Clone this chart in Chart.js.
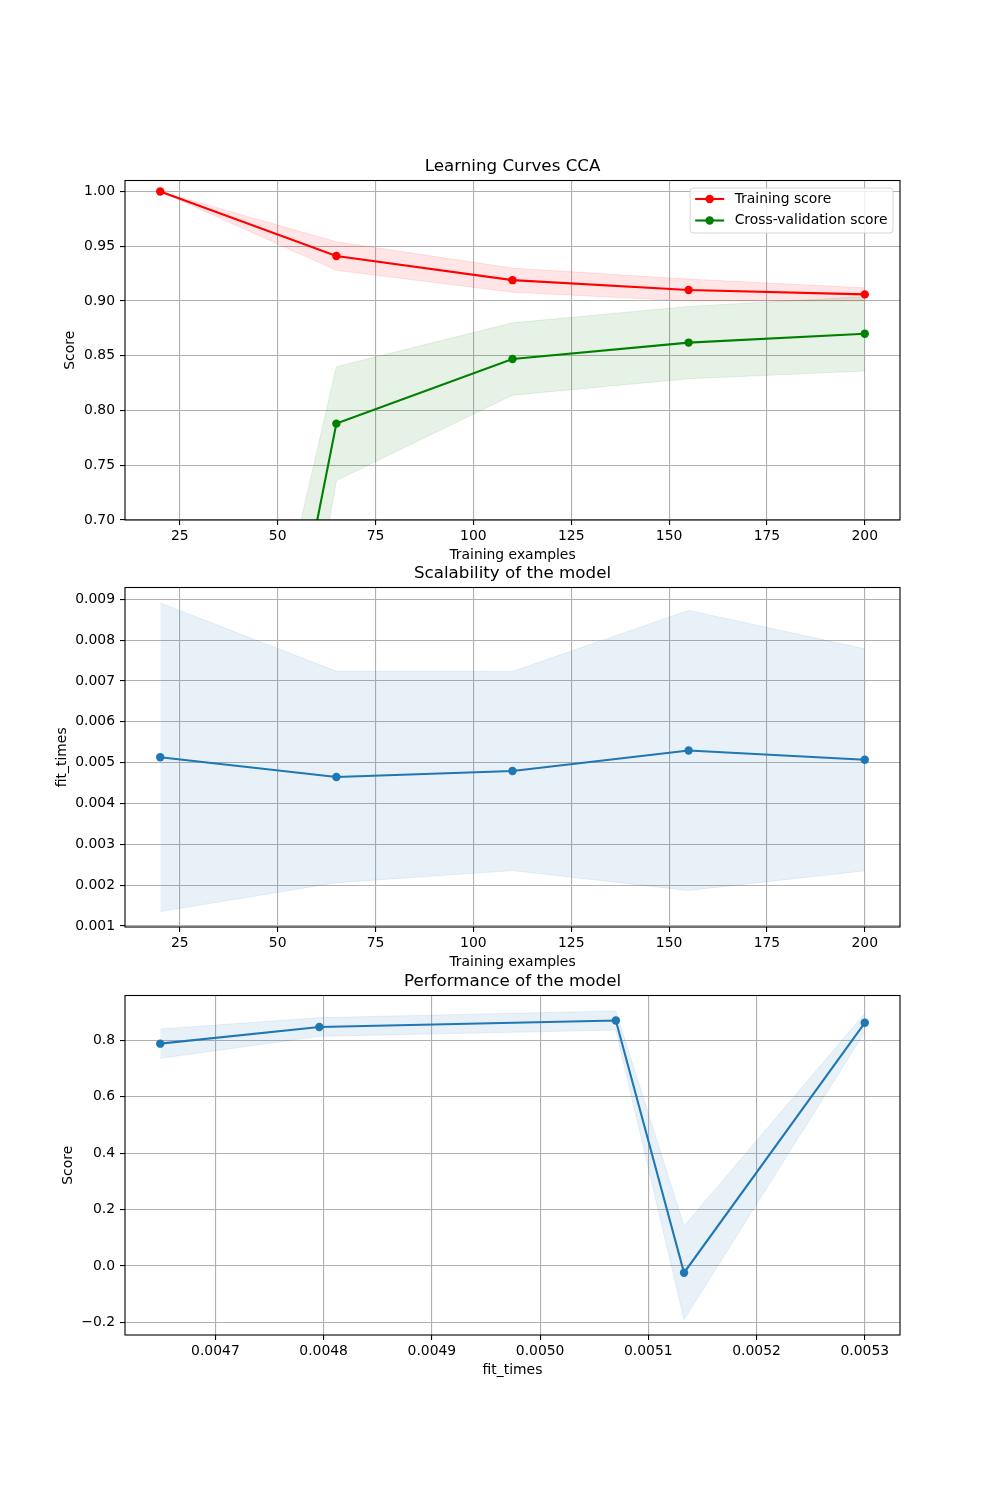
<!DOCTYPE html>
<html>
<head>
<meta charset="utf-8">
<script src="https://cdn.jsdelivr.net/npm/chart.js@4.4.1/dist/chart.umd.min.js"></script>
<style>
  body { margin: 0; background: #fff; }
  #wrap { position: relative; width: 1000px; height: 1500px; }
  canvas { position: absolute; left: 0; }
</style>
</head>
<body>
<div id="wrap">
  <canvas id="chartLearning" width="1000" height="408" style="top:156px"></canvas>
  <canvas id="chartScalability" width="1000" height="408" style="top:563px"></canvas>
  <canvas id="chartPerformance" width="1000" height="408" style="top:971px"></canvas>
</div>
<script>
// dados
const trainSizes = [20, 65, 110, 155, 200]
const trainMean = [1.0, 0.941, 0.919, 0.910, 0.906]
const trainStd = [0.0, 0.013, 0.011, 0.010, 0.006]
const testMean = [-0.024, 0.788, 0.847, 0.862, 0.870]
const testStd = [0.166, 0.052, 0.033, 0.033, 0.034]
const fitMean = [0.005133, 0.004649, 0.004796, 0.0053, 0.00507]
const fitStd = [0.00378, 0.00259, 0.00244, 0.00343, 0.00272]
const scoreYlim = [0.7, 1.01]

const FONT = "'DejaVu Sans', sans-serif"
Chart.defaults.font.family = FONT
Chart.defaults.color = "#000"

// margem de 5% como no matplotlib
const margins = (lo, hi) => {
    const m = (hi - lo) * 0.05
    return [lo - m, hi + m]
}
const pts = (xs, ys) => xs.map((x, i) => ({ x: x, y: ys[i] }))
const plus = (a, b) => a.map((v, i) => v + b[i])
const minus = (a, b) => a.map((v, i) => v - b[i])
const fmtMinus = s => s.replace("-", "\u2212")

// moldura preta em volta da área + título centrado na área
const frame = {
    id: "frame",
    afterDraw(chart, args, opts) {
        const { ctx, chartArea: a } = chart
        ctx.save()
        ctx.strokeStyle = "#000"
        ctx.lineWidth = 1.1
        ctx.strokeRect(a.left, a.top, a.right - a.left, a.bottom - a.top)
        if (opts.title) {
            ctx.font = "16.7px " + FONT
            ctx.fillStyle = "#000"
            ctx.textAlign = "center"
            ctx.textBaseline = "middle"
            ctx.fillText(opts.title, (a.left + a.right) / 2, a.top - 14)
        }
        ctx.restore()
    }
}

// legenda dentro do gráfico, canto superior direito
const legendBox = {
    id: "legendBox",
    afterDraw(chart, args, opts) {
        if (!opts.items) return
        const { ctx, chartArea } = chart
        ctx.save()
        ctx.font = "13.9px " + FONT
        const tw = Math.max(...opts.items.map(it => ctx.measureText(it.label).width))
        const w = tw + 50, h = 45
        const x = chartArea.right - 7 - w, y = chartArea.top + 7.5
        ctx.beginPath()
        ctx.roundRect(x, y, w, h, 3)
        ctx.fillStyle = "rgba(255,255,255,0.8)"
        ctx.fill()
        ctx.strokeStyle = "rgba(204,204,204,0.8)"
        ctx.lineWidth = 1
        ctx.stroke()
        opts.items.forEach((it, i) => {
            const ry = y + 11 + i * 21.5
            ctx.strokeStyle = it.color
            ctx.lineWidth = 2.1
            ctx.beginPath()
            ctx.moveTo(x + 5, ry)
            ctx.lineTo(x + 34, ry)
            ctx.stroke()
            ctx.fillStyle = it.color
            ctx.beginPath()
            ctx.arc(x + 19.5, ry, 4.2, 0, Math.PI * 2)
            ctx.fill()
            ctx.fillStyle = "#000"
            ctx.textBaseline = "middle"
            ctx.fillText(it.label, x + 44.5, ry)
        })
        ctx.restore()
    }
}

const lineSet = (label, data, color) => ({
    label: label,
    data: data,
    borderColor: color,
    backgroundColor: color,
    borderWidth: 2.1,
    pointRadius: 4.2,
    pointBorderWidth: 0,
    fill: false,
    tension: 0
})
const bandSet = (data, rgb, fill) => ({
    data: data,
    borderColor: "rgba(" + rgb + ",0.1)",
    backgroundColor: "rgba(" + rgb + ",0.1)",
    borderWidth: 1,
    pointRadius: 0,
    fill: fill,
    tension: 0
})

const gridOpts = {
    color: "#b0b0b0",
    lineWidth: 1.1,
    tickColor: "#000",
    tickLength: 5,
    tickWidth: 1.1
}

function axes(xr, yr, xStep, yStep, xFmt, yFmt, xTitle, yTitle, yTitlePad) {
    return {
        x: {
            type: "linear",
            min: xr[0],
            max: xr[1],
            grid: gridOpts,
            border: { display: false },
            ticks: { stepSize: xStep, includeBounds: false, font: { size: 13.9 }, padding: 3, maxRotation: 0, autoSkip: false, callback: xFmt },
            title: { display: true, text: xTitle, font: { size: 13.9 }, padding: { top: 0, bottom: 0 } },
            afterFit: axis => { axis.height = 44 }
        },
        y: {
            type: "linear",
            min: yr[0],
            max: yr[1],
            grid: gridOpts,
            border: { display: false },
            ticks: { stepSize: yStep, includeBounds: false, font: { size: 13.9 }, padding: 5, autoSkip: false, callback: yFmt },
            title: { display: true, text: yTitle, font: { size: 13.9 }, padding: { top: yTitlePad, bottom: 0 } },
            afterFit: axis => { axis.width = 125 }
        }
    }
}

function baseOptions(title, scales, extra) {
    return {
        responsive: false,
        animation: false,
        events: [],
        layout: { padding: { left: 0, right: 100, top: 24.5, bottom: 0 } },
        plugins: Object.assign({
            legend: { display: false },
            tooltip: { enabled: false },
            title: { display: false },
            frame: { title: title }
        }, extra || {}),
        scales: scales
    }
}

// 1 - curvas de aprendizagem
const sizeRange = margins(Math.min(...trainSizes), Math.max(...trainSizes))
new Chart(document.getElementById("chartLearning"), {
    type: "line",
    data: {
        datasets: [
            lineSet("Cross-validation score", pts(trainSizes, testMean), "#008000"),
            lineSet("Training score", pts(trainSizes, trainMean), "#ff0000"),
            bandSet(pts(trainSizes, plus(testMean, testStd)), "0,128,0", "+1"),
            bandSet(pts(trainSizes, minus(testMean, testStd)), "0,128,0", false),
            bandSet(pts(trainSizes, plus(trainMean, trainStd)), "255,0,0", "+1"),
            bandSet(pts(trainSizes, minus(trainMean, trainStd)), "255,0,0", false)
        ]
    },
    options: baseOptions("Learning Curves CCA",
        axes(sizeRange, scoreYlim, 25, 0.05, v => String(v), v => v.toFixed(2), "Training examples", "Score", 62.5),
        { legendBox: { items: [
            { label: "Training score", color: "#ff0000" },
            { label: "Cross-validation score", color: "#008000" }
        ] } }),
    plugins: [frame, legendBox]
})

// 2 - escalabilidade
const fitUp = plus(fitMean, fitStd)
const fitLo = minus(fitMean, fitStd)
new Chart(document.getElementById("chartScalability"), {
    type: "line",
    data: {
        datasets: [
            lineSet("fit_times", pts(trainSizes, fitMean), "#1f77b4"),
            bandSet(pts(trainSizes, fitUp), "31,119,180", "+1"),
            bandSet(pts(trainSizes, fitLo), "31,119,180", false)
        ]
    },
    options: baseOptions("Scalability of the model",
        axes(sizeRange, margins(Math.min(...fitLo), Math.max(...fitUp)), 25, 0.001, v => String(v), v => v.toFixed(3), "Training examples", "fit_times", 54.5)),
    plugins: [frame]
})

// 3 - desempenho (ordenado pelo tempo de ajuste)
const order = fitMean.map((v, i) => i).sort((a, b) => fitMean[a] - fitMean[b])
const fitSorted = order.map(i => fitMean[i])
const testSorted = order.map(i => testMean[i])
const testStdSorted = order.map(i => testStd[i])
const perfUp = plus(testSorted, testStdSorted)
const perfLo = minus(testSorted, testStdSorted)
new Chart(document.getElementById("chartPerformance"), {
    type: "line",
    data: {
        datasets: [
            lineSet("Score", pts(fitSorted, testSorted), "#1f77b4"),
            bandSet(pts(fitSorted, perfUp), "31,119,180", "+1"),
            bandSet(pts(fitSorted, perfLo), "31,119,180", false)
        ]
    },
    options: baseOptions("Performance of the model",
        axes(margins(Math.min(...fitSorted), Math.max(...fitSorted)), margins(Math.min(...perfLo), Math.max(...perfUp)),
            0.0001, 0.2, v => v.toFixed(4), v => fmtMinus(v.toFixed(1)), "fit_times", "Score", 60)),
    plugins: [frame]
})
</script>
</body>
</html>
